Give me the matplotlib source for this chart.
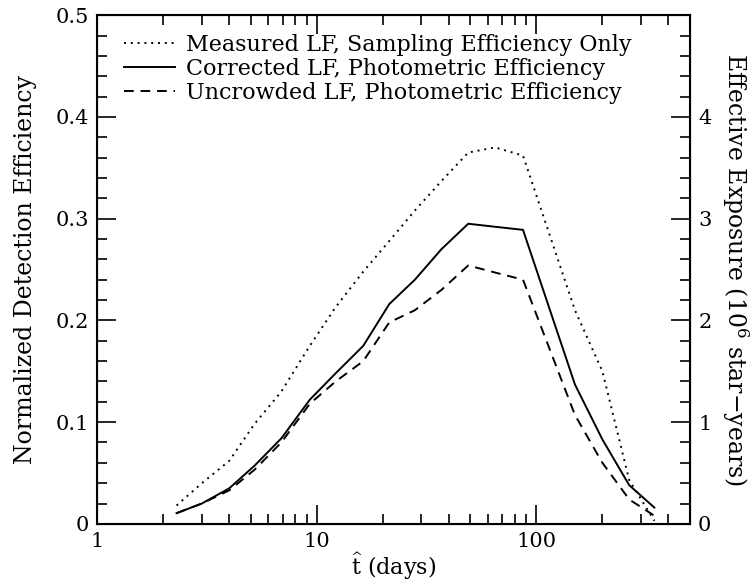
import numpy as np
import matplotlib
matplotlib.use("Agg")
import matplotlib.pyplot as plt
from matplotlib.ticker import FixedLocator, MultipleLocator, LogLocator, NullFormatter, FuncFormatter

plt.rcParams["font.family"] = ["DejaVu Serif"]
plt.rcParams["mathtext.fontset"] = "dejavuserif"

# event timescale (days)
t_hat = [2.3, 3.0, 4.0, 5.2, 6.9, 9.3, 12.2, 16.3, 21.4, 28, 37, 49, 65, 87, 150, 200, 265, 345]
measured = [0.018, 0.040, 0.062, 0.098, 0.130, 0.175, 0.213, 0.248, 0.278, 0.308, 0.337,
            0.365, 0.370, 0.362, 0.210, 0.150, 0.043, 0.003]
corrected = [0.0105, 0.020, 0.035, 0.057, 0.084, 0.122, 0.148, 0.175, 0.216, 0.240, 0.270,
             0.295, 0.292, 0.289, 0.137, 0.083, 0.038, 0.016]
uncrowded = [0.0105, 0.020, 0.033, 0.053, 0.080, 0.118, 0.140, 0.160, 0.198, 0.210, 0.230,
             0.254, 0.247, 0.240, 0.107, 0.060, 0.024, 0.008]

labels = ["Measured LF, Sampling Efficiency Only",
          "Corrected LF, Photometric Efficiency",
          "Uncrowded LF, Photometric Efficiency"]

fig = plt.figure(figsize=(7.53, 5.84), dpi=100)
ax = fig.add_axes([0.129, 0.103, 0.787, 0.871])

ax.plot(t_hat, measured, color="black", lw=1.4, linestyle=(0, (1, 2.5)), label=labels[0])
ax.plot(t_hat, corrected, color="black", lw=1.4, linestyle="-", label=labels[1])
ax.plot(t_hat, uncrowded, color="black", lw=1.4, linestyle=(0, (5, 3.5)), label=labels[2])

ax.set_xscale("log")
ax.set_xlim(1, 500)
ax.set_ylim(0, 0.5)
ax.xaxis.set_major_locator(FixedLocator([1, 10, 100]))
ax.xaxis.set_minor_locator(LogLocator(base=10, subs=np.arange(2, 10)))
ax.xaxis.set_minor_formatter(NullFormatter())
ax.xaxis.set_major_formatter(FuncFormatter(lambda v, p: f"{v:g}"))
ax.yaxis.set_major_locator(MultipleLocator(0.1))
ax.yaxis.set_minor_locator(MultipleLocator(0.02))
ax.yaxis.set_major_formatter(FuncFormatter(lambda v, p: "0" if abs(v) < 1e-9 else f"{v:.1f}"))

ax.tick_params(which="both", direction="in", top=True, right=False, labelsize=15, width=1.2)
ax.tick_params(which="major", length=14, pad=6)
ax.tick_params(which="minor", length=7)
for s in ax.spines.values():
    s.set_linewidth(1.5)

ax2 = ax.twinx()
ax2.set_ylim(0, 5)
ax2.yaxis.set_major_locator(FixedLocator([0, 1, 2, 3, 4]))
ax2.yaxis.set_minor_locator(MultipleLocator(0.2))
ax2.tick_params(which="both", direction="in", labelsize=15, width=1.2)
ax2.tick_params(which="major", length=14, pad=6)
ax2.tick_params(which="minor", length=7)

ax.set_xlabel(r"$\widehat{\mathrm{t}}$ (days)", fontsize=16, labelpad=0)
ax.set_ylabel("Normalized Detection Efficiency", fontsize=17, labelpad=13)
ax2.set_ylabel(r"Effective Exposure (10$^6$ star$-$years)", fontsize=17, rotation=270, labelpad=28)

ax.legend(loc="upper left", bbox_to_anchor=(0.022, 0.99), frameon=False, fontsize=16,
          handlelength=2.3, handletextpad=0.5, labelspacing=0.1, borderaxespad=0.2)

fig.savefig("out.png", dpi=100)
